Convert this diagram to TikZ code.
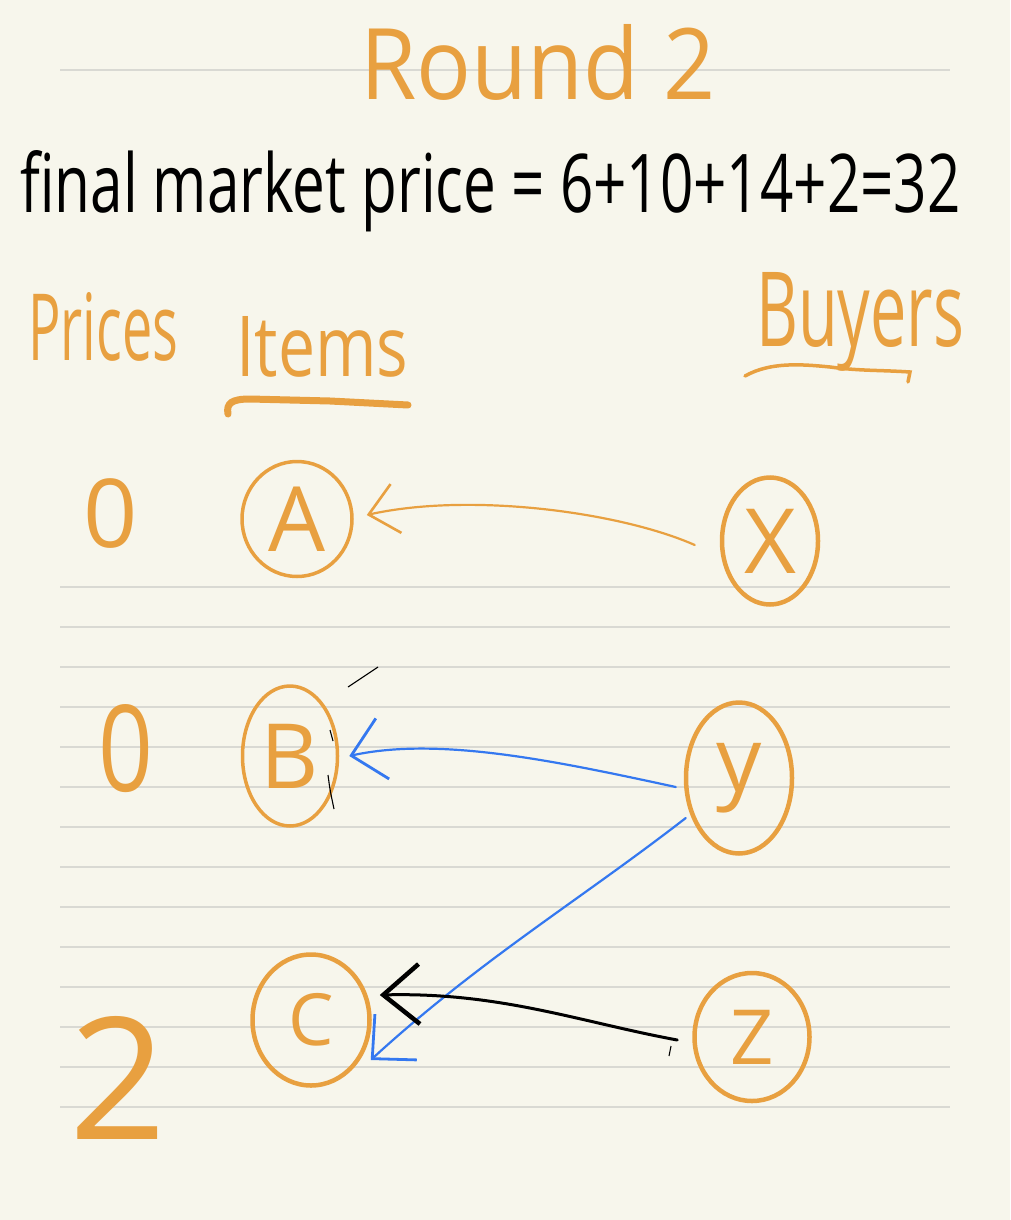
\documentclass[tikz,border=0pt]{standalone}
\usepackage{fontspec}
\setmainfont{Open Sans}
\usetikzlibrary{shapes.geometric,arrows.meta}
\definecolor{paper}{HTML}{F7F6EC}
\definecolor{rulecol}{HTML}{D9D9D3}
\definecolor{ink}{HTML}{E8A040}
\definecolor{blu}{HTML}{3478F0}
\begin{document}
\begin{tikzpicture}[x=1pt,y=-1pt,
  item/.style={ellipse, draw=ink, line width=4pt, inner sep=0pt, text=ink,
    font=\fontsize{90}{90}\selectfont},
  price/.style={text=ink, inner sep=0pt},
  txt/.style={inner sep=0pt, anchor=base west},
  oarrow/.style={draw=ink, line width=2.2pt, line cap=round,
    -{Straight Barb[length=28pt,width=50pt,line width=2.6pt]}},
  barrow/.style={draw=blu, line width=2.2pt, line cap=round,
    -{Straight Barb[length=32pt,width=62pt,line width=2.8pt]}},
  karrow/.style={draw=black, line width=3pt, line cap=round,
    -{Straight Barb[length=36pt,width=60pt,line width=4.5pt]}},
  penmark/.style={draw=black, line width=1.1pt}
]
% paper and rules
\fill[paper] (0,0) rectangle (1010,1220);
\draw[rulecol, line width=1.5pt] (60,70) -- (950,70);
\foreach \yy in {587,627,...,1107} \draw[rulecol, line width=1.5pt] (60,\yy) -- (950,\yy);

% headings
\node[txt, text=ink] (title) at (360,100) {\resizebox{355pt}{75pt}{Round 2}};
\node[txt, text=black] (eq) at (20,212) {\resizebox{940pt}{62pt}{final market price = 6+10+14+2=32}};
\node[txt, text=ink] (prices) at (28,360) {\resizebox{150pt}{68pt}{Prices}};
\node[txt, text=ink] (items) at (236,376) {\resizebox{172pt}{60pt}{Items}};
\node[txt, text=ink] (buyers) at (756,346) {\resizebox{208pt}{74pt}{Buyers}};
\draw[ink, line width=7pt, line cap=round] (228,414) .. controls (226,403) and (232,399) .. (250,399) -- (330,401) -- (408,405);
\draw[ink, line width=3.5pt, line cap=round] (745,376) .. controls (770,362) and (800,364) .. (830,367) .. controls (860,371) and (880,370) .. (910,372) -- (908,382);

% prices
\node[price, font=\fontsize{95}{95}\selectfont] (p1) at (111,514) {0};
\node[price, font=\fontsize{120}{120}\selectfont] (p2) at (126,749) {\scalebox{0.8}[1]{0}};
\node[price, font=\fontsize{170}{170}\selectfont] (p3) at (118,1078) {2};

% items
\node[item, line width=3.5pt, minimum width=110pt, minimum height=115pt] (A) at (297,519) {A};
\node[item, line width=3.5pt, minimum width=95pt, minimum height=140pt] (B) at (290,756) {B};
\node[item, line width=4.5pt, minimum width=117pt, minimum height=131pt, font=\fontsize{72}{72}\selectfont] (C) at (311,1020) {C};

% buyers
\node[item, line width=4.5pt, minimum width=96pt, minimum height=127pt] (X) at (770,541) {X};
\node[item, line width=4.5pt, minimum width=106pt, minimum height=151pt] (Y) at (739,778) {y};
\node[item, line width=4.5pt, minimum width=115pt, minimum height=128pt, font=\fontsize{76}{76}\selectfont] (Z) at (752,1037) {Z};

% connectors
\draw[oarrow] ([shift={(-25,4)}]X.west) .. controls (620,512) and (470,492) .. ([shift={(13,-4)}]A.east);
\draw[barrow] ([shift={(-8,9)}]Y.west) .. controls (560,762) and (440,736) .. ([xshift=10pt]B.east);
\draw[barrow] ([shift={(2,40)}]Y.west) .. controls (580,900) and (480,960) .. ([shift={(-1,40)}]C.east);
\draw[karrow] ([shift={(-15,3)}]Z.west) .. controls (580,1022) and (500,992) .. ([shift={(8,-25)}]C.east);

% stray pen marks
\coordinate (m1a) at (348,687); \coordinate (m1b) at (378,667);
\draw[penmark] (m1a) -- (m1b);
\coordinate (m2a) at (330,730); \coordinate (m2b) at (333,741);
\draw[penmark] (m2a) -- (m2b);
\coordinate (m3a) at (328,775); \coordinate (m3b) at (334,809);
\draw[penmark] (m3a) .. controls (330,790) .. (m3b);
\coordinate (m4a) at (671,1046); \coordinate (m4b) at (669,1056);
\draw[penmark] (m4a) -- (m4b);
\end{tikzpicture}
\end{document}
